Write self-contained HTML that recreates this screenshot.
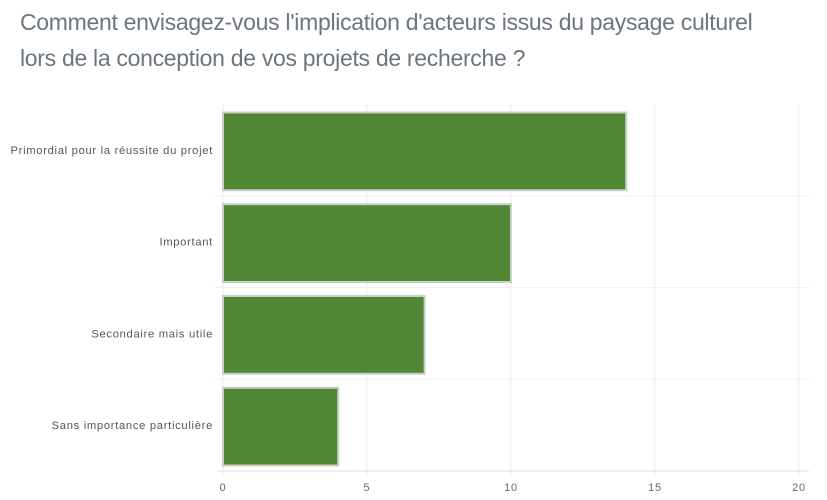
<!DOCTYPE html>
<html><head><meta charset="utf-8"><style>
body{margin:0;background:#fff;width:827px;height:500px;overflow:hidden;font-family:"Liberation Sans",sans-serif}
.title{position:absolute;left:20px;top:4px;font-size:23px;line-height:36px;color:#6b7580;font-weight:300;letter-spacing:-0.3px}
</style></head><body>
<div class="title">Comment envisagez-vous l'implication d'acteurs issus du paysage culturel<br>lors de la conception de vos projets de recherche ?</div>
<svg id="chart" width="827" height="500" style="position:absolute;left:0;top:0"></svg>
<script>
const categories=["Primordial pour la réussite du projet","Important","Secondaire mais utile","Sans importance particulière"];
const values=[14,10,7,4];
const ticks=[0,5,10,15,20];
const svg=document.getElementById('chart');
const NS='http://www.w3.org/2000/svg';
const x0=223,x1=799,yTop=104,yBottom=471,xmax=20;
const xs=v=>x0+(v/xmax)*(x1-x0);
const band=(yBottom-yTop)/categories.length;
function mk(t,a){const e=document.createElementNS(NS,t);for(const k in a)e.setAttribute(k,a[k]);svg.appendChild(e);return e;}
ticks.forEach(t=>{
 const g=mk('line',{x1:xs(t),x2:xs(t),y1:yTop,y2:yBottom+4,stroke:'#ececec'});
 
 
 const l=mk('text',{x:xs(t),y:491,'text-anchor':'middle','font-size':11,fill:'#666','letter-spacing':'0.8'});
 l.textContent=t;
 
 
});
categories.forEach((c,i)=>{
 const y=yTop+band*i;
 if(i>0){const gl=mk('line',{x1:x0-8,x2:x1+10,y1:y,y2:y,stroke:'#f0f0f0'});
 
 }
 const r=mk('rect',{x:x0,y:y+8.5,width:xs(values[i])-x0,height:band-14,fill:'#518634',stroke:'#c8cfc4','stroke-width':2});
 
 
 const l=mk('text',{x:213,y:y+band/2+4,'text-anchor':'end','font-size':11.2,fill:'#555','letter-spacing':'0.7'});
 l.textContent=c;
 
 
});
const ax=mk('line',{x1:x0-6,x2:x1+10,y1:yBottom,y2:yBottom,stroke:'#ddd'});


</script>
</body></html>
